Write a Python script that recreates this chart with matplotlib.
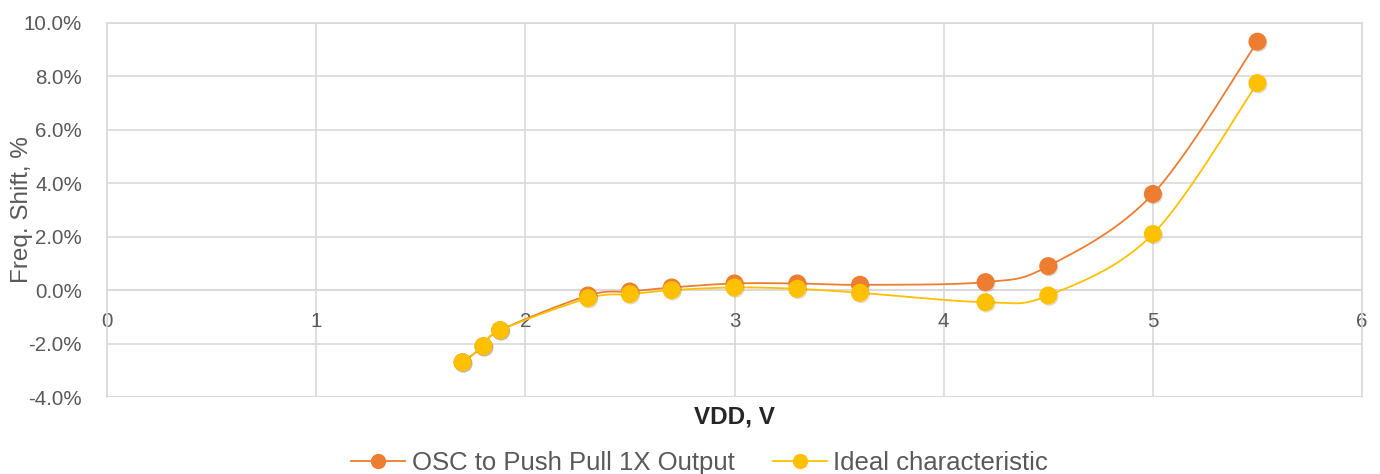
import numpy as np
import matplotlib.pyplot as plt
import matplotlib.patheffects as pe
from matplotlib.ticker import FuncFormatter, MultipleLocator

# datos
vdd = [1.7, 1.8, 1.88, 2.3, 2.5, 2.7, 3.0, 3.3, 3.6, 4.2, 4.5, 5.0, 5.5]
osc_shift = [-2.7, -2.1, -1.5, -0.2, -0.05, 0.1, 0.25, 0.25, 0.2, 0.3, 0.9, 3.6, 9.3]
ideal_shift = [-2.7, -2.1, -1.5, -0.3, -0.15, 0.0, 0.1, 0.05, -0.1, -0.45, -0.2, 2.1, 7.75]
labels = ["OSC to Push Pull 1X Output", "Ideal characteristic"]
colors = ["#ED7D31", "#FFC000"]


def smooth(x, y, n=30):
    # curva suavizada tipo Excel (Catmull-Rom con Bezier)
    x = np.asarray(x, float)
    y = np.asarray(y, float)
    px = np.concatenate([[x[0]], x, [x[-1]]])
    py = np.concatenate([[y[0]], y, [y[-1]]])
    xs, ys = [], []
    t = np.linspace(0, 1, n)
    for i in range(1, len(px) - 2):
        p0 = np.array([px[i], py[i]])
        p3 = np.array([px[i + 1], py[i + 1]])
        c1 = p0 + (p3 - np.array([px[i - 1], py[i - 1]])) / 6
        c2 = p3 - (np.array([px[i + 2], py[i + 2]]) - p0) / 6
        b = ((1 - t) ** 3)[:, None] * p0 + (3 * (1 - t) ** 2 * t)[:, None] * c1 \
            + (3 * (1 - t) * t ** 2)[:, None] * c2 + (t ** 3)[:, None] * p3
        xs.extend(b[:, 0])
        ys.extend(b[:, 1])
    return xs, ys


plt.rcParams['font.family'] = ['Liberation Sans', 'DejaVu Sans']

fig = plt.figure(figsize=(13.8, 4.74), dpi=100)
ax = fig.add_axes([0.0775, 0.1624, 0.9095, 0.7891])

# sombra suave bajo los marcadores
shadow = [pe.SimpleLineShadow(offset=(0.7, -0.9), shadow_color='#333333', alpha=0.18), pe.Normal()]
for ys, lab, col in zip([osc_shift, ideal_shift], labels, colors):
    sx, sy = smooth(vdd, ys)
    ax.plot(sx, sy, color=col, lw=1.3, zorder=3)
    ax.plot(vdd, ys, 'o', color=col, ms=12, mec=col, zorder=4, path_effects=shadow)
    ax.plot([], [], '-o', color=col, lw=1.3, ms=10, label=lab)

ax.set_xlim(0, 6)
ax.set_ylim(-4, 10)
ax.xaxis.set_major_locator(MultipleLocator(1))
ax.yaxis.set_major_locator(MultipleLocator(2))
ax.yaxis.set_major_formatter(FuncFormatter(lambda v, p: f"{v:.1f}%"))
ax.grid(True, color="#D9D9D9", lw=1.2, zorder=0)
ax.set_axisbelow(True)

for s in ['top', 'right', 'left']:
    ax.spines[s].set_color("#D9D9D9")
    ax.spines[s].set_linewidth(1.2)
ax.spines['bottom'].set_position(('data', 0))
ax.spines['bottom'].set_color("#D9D9D9")
ax.spines['bottom'].set_linewidth(1.2)
ax.axhline(-4, color="#D9D9D9", lw=1.2, zorder=0)

ax.tick_params(axis='both', length=0, labelsize=14.8, labelcolor="#595959")
ax.tick_params(axis='x', pad=16)
ax.tick_params(axis='y', pad=18)

fig.text(22 / 1380, 0.557, "Freq. Shift, %", rotation=90, ha='center', va='center',
         fontsize=17.5, color="#595959")
fig.text(0.532, 1 - 417 / 474, "VDD, V", ha='center', va='center', fontsize=17.5,
         fontweight='bold', color="#262626")

fig.legend(loc='lower center', bbox_to_anchor=(0.507, -0.05), ncol=2, frameon=False,
           fontsize=18.5, labelcolor="#595959", handlelength=2.1, columnspacing=1.5,
           handletextpad=0.25)

fig.savefig("out.png", dpi=100)
